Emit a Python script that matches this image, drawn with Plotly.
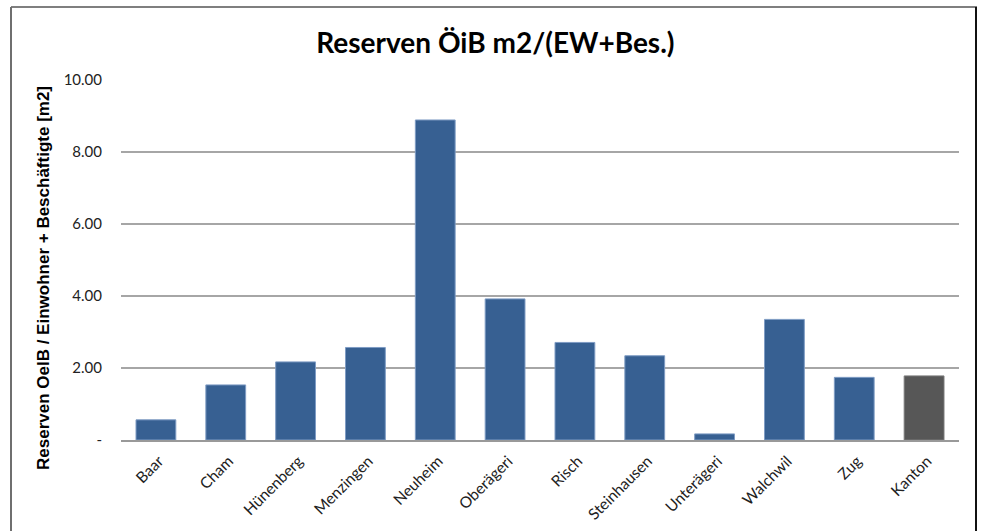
import plotly.graph_objects as go

categories = ["Baar", "Cham", "Hünenberg", "Menzingen", "Neuheim", "Oberägeri",
              "Risch", "Steinhausen", "Unterägeri", "Walchwil", "Zug", "Kanton"]
values = [0.56, 1.53, 2.17, 2.57, 8.89, 3.92, 2.71, 2.34, 0.17, 3.35, 1.74, 1.78]
bar_colors = ["#376092"] * 11 + ["#575757"]
line_colors = ["#7f9cc4"] * 11 + ["#7a7a7a"]
tick_vals = [0, 2, 4, 6, 8, 10]
tick_text = ["-", "2.00", "4.00", "6.00", "8.00", "10.00"]

fig = go.Figure(go.Bar(
    x=categories, y=values,
    marker=dict(color=bar_colors, line=dict(color=line_colors, width=1)),
))

L, R, T, B = 121, 22, 80, 91
W, H = 981, 531
pw, ph = W - L - R, H - T - B

def px_x(p):
    return (p - L) / pw

def px_y(p):
    return (H - B - p) / ph

fig.update_layout(
    width=W, height=H,
    margin=dict(l=L, r=R, t=T, b=B, autoexpand=False),
    paper_bgcolor="white", plot_bgcolor="white",
    bargap=0.43,
    showlegend=False,
    font=dict(family="Lato", color="#222222", size=14),
    title=dict(text="<b>Reserven ÖiB m2/(EW+Bes.)</b>", x=0.505, xanchor="center",
               y=1 - 43 / H, yanchor="middle", yref="container",
               font=dict(family="Lato", size=28, color="#000000")),
    xaxis=dict(showgrid=False, showline=True, linecolor="#999999", linewidth=2,
               tickangle=-45, tickfont=dict(size=15.5, family="Lato", color="#222222"),
               ticks="", ticklabelshift=3, ticklabelstandoff=4, automargin=False),
    yaxis=dict(range=[0, 10], tickvals=tick_vals, ticktext=tick_text,
               showgrid=True, gridcolor="#a6a6a6", gridwidth=1.5,
               showline=False, zeroline=False, ticks="",
               ticklabelstandoff=18,
               tickfont=dict(size=15, family="Lato", color="#222222"),
               automargin=False),
    annotations=[dict(text="<b>Reserven OeIB / Einwohner + Beschäftigte [m2]</b>",
                      textangle=-90, xref="paper", yref="paper",
                      x=px_x(43), y=px_y(278), xanchor="center", yanchor="middle",
                      showarrow=False,
                      font=dict(family="Liberation Sans", size=17, color="#000000"))],
    shapes=[
        dict(type="line", xref="paper", yref="paper", x0=px_x(11), x1=px_x(977),
             y0=px_y(7), y1=px_y(7), line=dict(color="#7f7f7f", width=2)),
        dict(type="line", xref="paper", yref="paper", x0=px_x(11), x1=px_x(11),
             y0=px_y(7), y1=px_y(540), line=dict(color="#6f6f6f", width=2)),
        dict(type="line", xref="paper", yref="paper", x0=px_x(976), x1=px_x(976),
             y0=px_y(7), y1=px_y(540), line=dict(color="#111111", width=2)),
    ],
)

fig.write_html("out.html", config={"displayModeBar": False},
               post_script="document.body.style.margin='0';document.body.style.overflow='hidden';")
